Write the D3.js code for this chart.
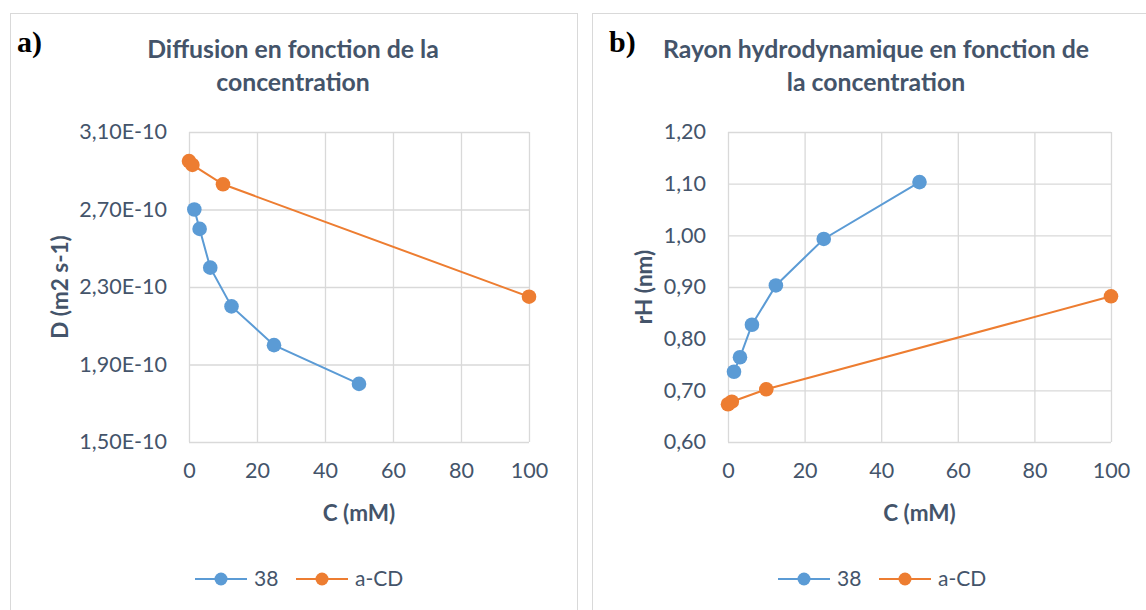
<!DOCTYPE html>
<html>
<head>
<meta charset="utf-8">
<script src="https://cdn.jsdelivr.net/npm/d3@7"></script>
<style>
  html, body { margin: 0; padding: 0; background: #fff; }
  svg { display: block; }
</style>
</head>
<body>
<svg id="chart" width="1146" height="610"></svg>
<script>
// ---------- DATA ----------
const seriesNames = ["38", "a-CD"];
// Panel a) Diffusion
const cA38 = [1.5625, 3.125, 6.25, 12.5, 25, 50];
const dA38 = [2.70e-10, 2.60e-10, 2.40e-10, 2.20e-10, 2.00e-10, 1.80e-10];
const cACD = [0, 1, 10, 100];
const dACD = [2.95e-10, 2.93e-10, 2.83e-10, 2.25e-10];
// Panel b) Rayon hydrodynamique
const cB38 = [1.5625, 3.125, 6.25, 12.5, 25, 50];
const rB38 = [0.736, 0.764, 0.827, 0.903, 0.993, 1.103];
const cBCD = [0, 1, 10, 100];
const rBCD = [0.673, 0.678, 0.702, 0.882];
// Ticks
const xTicks = [0, 20, 40, 60, 80, 100];
const yTicksA = [1.5e-10, 1.9e-10, 2.3e-10, 2.7e-10, 3.1e-10];
const yTicksB = [0.6, 0.7, 0.8, 0.9, 1.0, 1.1, 1.2];
// Texts
const titleA = ["Diffusion en fonction de la", "concentration"];
const titleB = ["Rayon hydrodynamique en fonction de", "la concentration"];
const labelA = "a)", labelB = "b)";
const xTitle = "C (mM)";
const yTitleA = "D (m2 s-1)";
const yTitleB = "rH (nm)";

// ---------- STYLE ----------
const colors = ["#5B9BD5", "#ED7D31"];
const textColor = "#44546A";
const gridColor = "#D9D9D9";
const font = "Lato, 'Open Sans', sans-serif";

const svg = d3.select("#chart");

const fmtA = v => (v * 1e10).toFixed(2).replace(".", ",") + "E-10";
const fmtB = v => v.toFixed(2).replace(".", ",");

function panel(cfg) {
  const g = svg.append("g");
  // panel border
  g.append("rect")
    .attr("x", cfg.box[0] + 0.5).attr("y", cfg.box[1] + 0.5)
    .attr("width", cfg.box[2]).attr("height", cfg.box[3])
    .attr("fill", "#fff").attr("stroke", gridColor).attr("stroke-width", 1);

  const x = d3.scaleLinear().domain([0, 100]).range(cfg.xr);
  const y = d3.scaleLinear().domain(cfg.yd).range([442, 132]);

  // horizontal gridlines + y tick labels
  const ya = g.append("g").attr("transform", `translate(${cfg.xr[0]},0)`)
    .call(d3.axisLeft(y).tickValues(cfg.yTicks).tickFormat(cfg.fmt)
      .tickSize(-(cfg.xr[1] - cfg.xr[0])).tickPadding(cfg.xr[0] - cfg.yLabelRight));
  ya.select(".domain").remove();
  ya.selectAll("line").attr("stroke", gridColor).attr("stroke-width", 1.3);
  ya.selectAll("text").attr("fill", textColor).style("font-family", font).style("font-size", "21.5px");

  // vertical gridlines + x tick labels
  const xa = g.append("g").attr("transform", `translate(0,${y.range()[0]})`)
    .call(d3.axisBottom(x).tickValues(xTicks)
      .tickSize(-(y.range()[0] - y.range()[1])).tickPadding(21));
  xa.select(".domain").remove();
  xa.selectAll("line").attr("stroke", gridColor).attr("stroke-width", 1.3);
  xa.selectAll("text").attr("fill", textColor).style("font-family", font).style("font-size", "21.5px");

  // series
  cfg.series.forEach((s, i) => {
    const pts = s.c.map((c, j) => [c, s.v[j]]);
    g.append("path").datum(pts)
      .attr("fill", "none").attr("stroke", colors[i]).attr("stroke-width", 2)
      .attr("d", d3.line().x(d => x(d[0])).y(d => y(d[1])));
    g.selectAll(null).data(pts).enter().append("circle")
      .attr("cx", d => x(d[0])).attr("cy", d => y(d[1])).attr("r", 7.3)
      .attr("fill", colors[i]);
  });

  // title
  const cx = (cfg.xr[0] + cfg.xr[1]) / 2;
  g.append("text").attr("x", cfg.titleX).attr("y", 58)
    .attr("text-anchor", "middle").attr("fill", textColor)
    .style("font-family", font).style("font-weight", "bold").style("font-size", "24.8px")
    .selectAll("tspan").data(cfg.title).enter().append("tspan")
    .attr("x", cfg.titleX).attr("dy", (d, i) => i === 0 ? 0 : 33).text(d => d);

  // panel label
  g.append("text").attr("x", cfg.labelX).attr("y", 52)
    .attr("fill", "#000").style("font-family", "'Liberation Serif', 'DejaVu Serif', serif")
    .style("font-weight", "bold").style("font-size", "30px").text(cfg.label);

  // x axis title
  g.append("text").attr("x", cx).attr("y", 521).attr("text-anchor", "middle")
    .attr("fill", textColor).style("font-family", font).style("font-weight", "bold")
    .style("font-size", "22.5px").text(xTitle);

  // y axis title
  g.append("text").attr("transform", `translate(${cfg.yTitleX},287) rotate(-90)`)
    .attr("text-anchor", "middle").attr("fill", textColor).style("font-family", font)
    .style("font-weight", "bold").style("font-size", "22.5px").text(cfg.yTitle);

  // legend
  cfg.legend.forEach((lx, i) => {
    const ly = 579;
    g.append("line").attr("x1", lx).attr("x2", lx + 52).attr("y1", ly).attr("y2", ly)
      .attr("stroke", colors[i]).attr("stroke-width", 2);
    g.append("circle").attr("cx", lx + 26).attr("cy", ly).attr("r", 6.5)
      .attr("fill", colors[i]);
    g.append("text").attr("x", lx + 59).attr("y", ly + 7).attr("fill", textColor)
      .style("font-family", font).style("font-size", "21px").text(seriesNames[i]);
  });
}

panel({
  box: [10, 13, 567, 620], xr: [189, 529], yd: [1.5e-10, 3.1e-10], yTicks: yTicksA, fmt: fmtA,
  yLabelRight: 167, title: titleA, titleX: 293, label: labelA, labelX: 17,
  yTitleX: 68, yTitle: yTitleA,
  series: [{c: cA38, v: dA38}, {c: cACD, v: dACD}],
  legend: [195, 296]
});
panel({
  box: [592, 13, 580, 620], xr: [728, 1111], yd: [0.6, 1.2], yTicks: yTicksB, fmt: fmtB,
  yLabelRight: 706, title: titleB, titleX: 876, label: labelB, labelX: 609,
  yTitleX: 652, yTitle: yTitleB,
  series: [{c: cB38, v: rB38}, {c: cBCD, v: rBCD}],
  legend: [778, 879]
});
</script>
</body>
</html>
